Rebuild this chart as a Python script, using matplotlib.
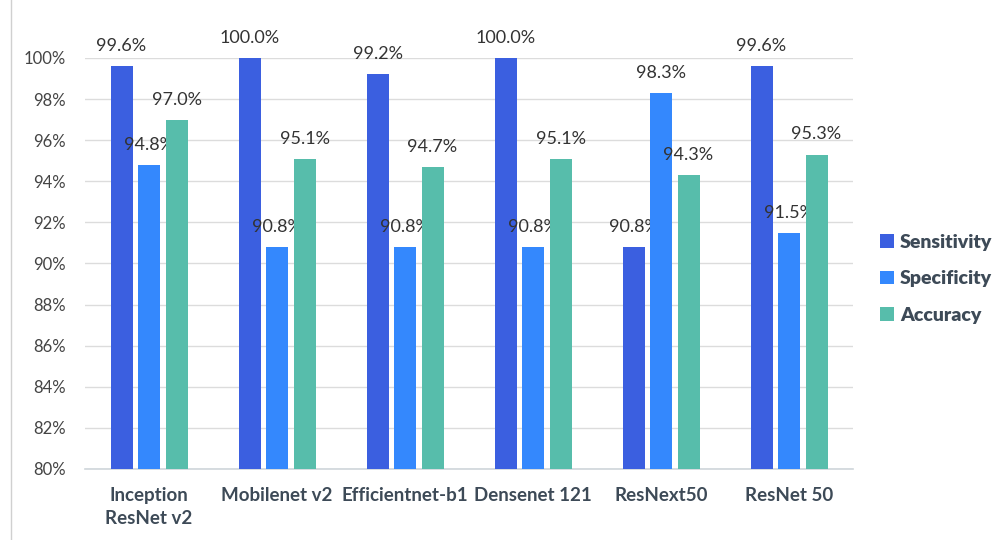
import matplotlib.pyplot as plt
import numpy as np
from matplotlib.lines import Line2D

modelos = ['Inception\nResNet v2', 'Mobilenet v2', 'Efficientnet-b1', 'Densenet 121', 'ResNext50', 'ResNet 50']
sensitivity = [99.6, 100.0, 99.2, 100.0, 90.8, 99.6]
specificity = [94.8, 90.8, 90.8, 90.8, 98.3, 91.5]
accuracy = [97.0, 95.1, 94.7, 95.1, 94.3, 95.3]

series = [('Sensitivity', sensitivity, '#3b5fe0'),
          ('Specificity', specificity, '#3488fd'),
          ('Accuracy', accuracy, '#57bdab')]

plt.rcParams['font.family'] = ['Lato', 'DejaVu Sans']

fig = plt.figure(figsize=(9.97, 5.40), dpi=100)
ax = fig.add_axes([0.0853, 0.1315, 0.7703, 0.7611])

x = np.arange(len(modelos))
ancho = 0.172
paso = 0.215

for i, (nombre, vals, color) in enumerate(series):
    pos = x + (i - 1) * paso
    ax.bar(pos, vals, width=ancho, color=color, label=nombre, zorder=3)
    for px, v in zip(pos, vals):
        ax.annotate(f'{v:.1f}%', (px, v), xytext=(0, 14.5), textcoords='offset points',
                    ha='center', va='center', fontsize=13, color='#333333')

ax.set_xlim(-0.5, len(modelos) - 0.5)
ax.set_ylim(80, 100)
ax.set_yticks(np.arange(80, 101, 2))
ax.set_yticklabels([f'{t}%' for t in range(80, 101, 2)], fontsize=12, color='#444444')
ax.set_xticks(x)
ax.set_xticklabels(modelos, fontsize=13.5, fontweight='bold', color='#3d4a57', linespacing=1.4)
ax.tick_params(axis='both', length=0)
ax.tick_params(axis='x', pad=13)
ax.tick_params(axis='y', pad=14)
ax.grid(axis='y', color='#dcdcdc', linewidth=1, zorder=0)
for lado in ['top', 'right', 'left']:
    ax.spines[lado].set_visible(False)
ax.spines['bottom'].set_color('#cfd6da')
ax.spines['bottom'].set_linewidth(1.2)

leg = fig.legend(loc='center left', bbox_to_anchor=(0.8655, 0.484), frameon=False,
                 handlelength=0.7, handleheight=0.7, handletextpad=0.3,
                 labelspacing=1.0, prop={'weight': 'heavy', 'size': 14})
for t in leg.get_texts():
    t.set_color('#3d4a57')

# borde izquierdo de la imagen
fig.add_artist(Line2D([0.011, 0.011], [0.0, 1.0], color='#d0d0d0', linewidth=1))

fig.savefig('out.png', dpi=100)
